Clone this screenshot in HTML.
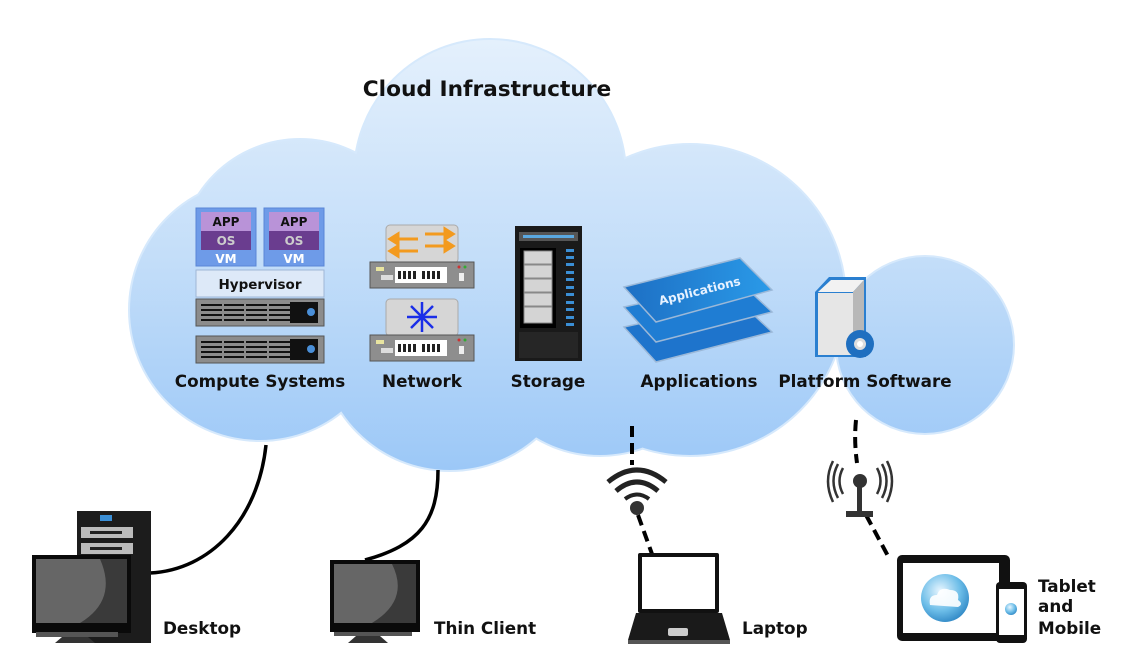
<!DOCTYPE html>
<html><head><meta charset="utf-8"><style>
html,body{margin:0;padding:0;background:#fff;}
svg{display:block;}
text{font-family:"DejaVu Sans","Liberation Sans",sans-serif;font-weight:bold;}
</style></head><body>
<svg width="1127" height="668" viewBox="0 0 1127 668" xmlns="http://www.w3.org/2000/svg">
<defs>
<linearGradient id="cg" x1="0" y1="40" x2="0" y2="470" gradientUnits="userSpaceOnUse">
<stop offset="0" stop-color="#e4f0fc"/><stop offset="0.5" stop-color="#c4def9"/><stop offset="1" stop-color="#9cc8f7"/>
</linearGradient>
<linearGradient id="ag" x1="0" y1="0" x2="1" y2="0"><stop offset="0" stop-color="#1d6fc4"/><stop offset="1" stop-color="#2a9ae8"/></linearGradient>
<radialGradient id="og" cx="0.4" cy="0.35" r="0.7"><stop offset="0" stop-color="#e8f6ff"/><stop offset="0.6" stop-color="#6cbde8"/><stop offset="1" stop-color="#2e86c4"/></radialGradient>
</defs>
<g fill="#cfe4fb" stroke="#d6e9fc" stroke-width="4">
<circle cx="490" cy="175" r="135"/><circle cx="260" cy="310" r="130"/><circle cx="300" cy="260" r="120"/>
<circle cx="450" cy="340" r="130"/><circle cx="690" cy="300" r="155"/><circle cx="600" cy="330" r="125"/><circle cx="925" cy="345" r="88"/>
</g>
<g fill="url(#cg)">
<circle cx="490" cy="175" r="135"/><circle cx="260" cy="310" r="130"/><circle cx="300" cy="260" r="120"/>
<circle cx="450" cy="340" r="130"/><circle cx="690" cy="300" r="155"/><circle cx="600" cy="330" r="125"/><circle cx="925" cy="345" r="88"/>
</g>
<text x="487" y="96" font-size="21.7" text-anchor="middle" fill="#111">Cloud Infrastructure</text>

<g>
<rect x="196" y="208" width="60" height="58" fill="#6e9be8" stroke="#5a86d6"/>
<rect x="201" y="212" width="50" height="19" fill="#b993d8"/><rect x="201" y="231" width="50" height="19" fill="#6a3d8f"/>
<text x="226" y="226" font-size="12" text-anchor="middle" fill="#111">APP</text>
<text x="226" y="245" font-size="12" text-anchor="middle" fill="#ccc">OS</text>
<text x="226" y="263" font-size="12" text-anchor="middle" fill="#fff">VM</text>
<rect x="264" y="208" width="60" height="58" fill="#6e9be8" stroke="#5a86d6"/>
<rect x="269" y="212" width="50" height="19" fill="#b993d8"/><rect x="269" y="231" width="50" height="19" fill="#6a3d8f"/>
<text x="294" y="226" font-size="12" text-anchor="middle" fill="#111">APP</text>
<text x="294" y="245" font-size="12" text-anchor="middle" fill="#ccc">OS</text>
<text x="294" y="263" font-size="12" text-anchor="middle" fill="#fff">VM</text>
<rect x="196" y="270" width="128" height="27" fill="#dde9f8" stroke="#9fb6d6"/>
<text x="260" y="289" font-size="13.5" text-anchor="middle" fill="#111">Hypervisor</text>
<g id="srv">
<rect x="196" y="299" width="128" height="27" fill="#8c8c8c" stroke="#555"/>
<g stroke="#111" stroke-width="2">
<line x1="201" y1="305" x2="292" y2="305"/><line x1="201" y1="310" x2="292" y2="310"/><line x1="201" y1="315" x2="292" y2="315"/><line x1="201" y1="320" x2="292" y2="320"/>
</g>
<g stroke="#8c8c8c" stroke-width="2"><line x1="223" y1="302" x2="223" y2="323"/><line x1="245" y1="302" x2="245" y2="323"/><line x1="268" y1="302" x2="268" y2="323"/></g>
<rect x="290" y="302" width="28" height="21" fill="#111"/><circle cx="311" cy="312" r="4" fill="#4a8fd8"/>
</g>
<use href="#srv" y="37"/>
</g>
<text x="260" y="387" font-size="16.8" text-anchor="middle" fill="#111">Compute Systems</text>

<g>
<rect x="386" y="225" width="72" height="38" rx="4" fill="#d6d6d6" stroke="#aaa"/>
<g stroke="#f39a1e" stroke-width="3" fill="#f39a1e">
<line x1="396" y1="239" x2="418" y2="239"/><polygon points="390,239 398,234 398,244"/>
<line x1="396" y1="251" x2="418" y2="251"/><polygon points="390,251 398,246 398,256"/>
<line x1="425" y1="234" x2="447" y2="234"/><polygon points="453,234 445,229 445,239"/>
<line x1="425" y1="246" x2="447" y2="246"/><polygon points="453,246 445,241 445,251"/>
</g>
<g id="sw">
<rect x="370" y="262" width="104" height="26" fill="#8e8e8e" stroke="#555"/>
<rect x="395" y="267" width="52" height="16" fill="#fff"/>
<g fill="#222"><rect x="398" y="271" width="3" height="8"/><rect x="403" y="271" width="3" height="8"/><rect x="408" y="271" width="3" height="8"/><rect x="413" y="271" width="3" height="8"/><rect x="422" y="271" width="3" height="8"/><rect x="427" y="271" width="3" height="8"/><rect x="432" y="271" width="3" height="8"/><rect x="437" y="271" width="3" height="8"/></g>
<rect x="376" y="267" width="8" height="4" fill="#e8e4a0"/><rect x="381" y="275" width="12" height="5" fill="#ddd"/>
<rect x="459" y="273" width="5" height="8" fill="#eee"/><circle cx="459" cy="267" r="1.5" fill="#c33"/><circle cx="465" cy="267" r="1.5" fill="#3a3"/>
</g>
<rect x="386" y="299" width="72" height="37" rx="4" fill="#d6d6d6" stroke="#aaa"/>
<g stroke="#1a2ee8" stroke-width="2.5">
<line x1="407" y1="317" x2="437" y2="317"/><line x1="422" y1="302" x2="422" y2="332"/>
<line x1="411" y1="306" x2="433" y2="328"/><line x1="433" y1="306" x2="411" y2="328"/>
</g>
<use href="#sw" y="73"/>
</g>
<text x="422" y="387" font-size="16.8" text-anchor="middle" fill="#111">Network</text>

<g>
<rect x="515" y="226" width="67" height="135" fill="#1a1a1a"/>
<rect x="519" y="232" width="59" height="9" fill="#555"/><rect x="523" y="235" width="51" height="3" fill="#5aa8e0"/>
<rect x="520" y="248" width="36" height="80" fill="#000"/>
<g fill="#d4d4d4" stroke="#888">
<rect x="524" y="251" width="28" height="13"/><rect x="524" y="265" width="28" height="13"/><rect x="524" y="279" width="28" height="13"/><rect x="524" y="293" width="28" height="13"/><rect x="524" y="307" width="28" height="16"/>
</g>
<g fill="#3b8fd6">
<rect x="566" y="249" width="8" height="3"/><rect x="566" y="256" width="8" height="3"/><rect x="566" y="263" width="8" height="3"/><rect x="566" y="271" width="8" height="3"/><rect x="566" y="278" width="8" height="3"/><rect x="566" y="286" width="8" height="3"/><rect x="566" y="293" width="8" height="3"/><rect x="566" y="301" width="8" height="3"/><rect x="566" y="308" width="8" height="3"/><rect x="566" y="316" width="8" height="3"/><rect x="566" y="323" width="8" height="3"/>
</g>
<rect x="519" y="332" width="59" height="26" fill="#262626"/>
</g>
<text x="548" y="387" font-size="16.8" text-anchor="middle" fill="#111">Storage</text>

<g stroke="#9bb8d8" stroke-width="1.5">
<polygon points="624,327 740,302 772,332 656,362" fill="#1e74cc"/>
<polygon points="624,307 740,282 772,312 656,342" fill="#1f7dd3"/>
<polygon points="624,287 740,258 772,290 656,322" fill="url(#ag)"/>
</g>
<text x="0" y="0" font-size="12" fill="#e8f2ff" transform="translate(660,305) rotate(-14)">Applications</text>
<text x="699" y="387" font-size="16.8" text-anchor="middle" fill="#111">Applications</text>

<g>
<polygon points="815,292 829,277 866,277 866,357 815,357" fill="#2a7fd0"/>
<rect x="818" y="293" width="35" height="62" fill="#e6e6e6"/>
<polygon points="818,292 831,280 864,280 853,292" fill="#f2f2f2"/>
<polygon points="853,292 864,280 864,350 853,355" fill="#b8b8b8"/>
<circle cx="860" cy="344" r="14" fill="#1f6fc0"/><circle cx="860" cy="344" r="6" fill="#ddd"/><circle cx="860" cy="344" r="3" fill="#fff"/>
</g>
<text x="865" y="387" font-size="16.8" text-anchor="middle" fill="#111">Platform Software</text>

<g fill="none" stroke="#000" stroke-width="3.5">
<path d="M266,445 C258,520 210,570 150,573"/>
<path d="M438,470 C438,520 420,545 365,560"/>
</g>
<g fill="none" stroke="#000" stroke-width="4" stroke-dasharray="11,6">
<path d="M632,426 L632,465"/>
<path d="M638,515 L652,554"/>
<path d="M856,420 C854,440 856,455 857,463"/>
<path d="M866,515 L888,556"/>
</g>
<g fill="none" stroke="#222">
<path d="M608,482 Q637,458 666,482" stroke-width="5"/>
<path d="M616,491 Q637,473 658,491" stroke-width="5"/>
<path d="M625,499 Q637,490 649,499" stroke-width="4"/>
</g>
<circle cx="637" cy="508" r="7" fill="#333"/>
<g fill="none" stroke="#333" stroke-width="2.5">
<path d="M843,468 Q836,481 843,494"/><path d="M838,464 Q829,481 838,498"/><path d="M833,461 Q823,481 833,502"/>
<path d="M877,468 Q884,481 877,494"/><path d="M882,464 Q891,481 882,498"/><path d="M887,461 Q897,481 887,502"/>
</g>
<circle cx="860" cy="481" r="7" fill="#333"/>
<rect x="857" y="484" width="5" height="28" fill="#333"/><rect x="846" y="511" width="27" height="6" fill="#333"/>

<g>
<rect x="77" y="511" width="74" height="132" fill="#1c1c1c"/>
<rect x="100" y="515" width="12" height="6" fill="#3b8fd6"/>
<rect x="81" y="527" width="52" height="11" fill="#bbb"/><rect x="90" y="531" width="32" height="3" fill="#222"/>
<rect x="81" y="543" width="52" height="11" fill="#bbb"/><rect x="90" y="547" width="32" height="3" fill="#222"/>
<rect x="32" y="555" width="99" height="78" fill="#0a0a0a"/>
<rect x="36" y="559" width="91" height="64" fill="#666"/>
<path d="M100,559 Q118,600 80,623 L127,623 L127,559Z" fill="#3a3a3a"/>
<rect x="36" y="632" width="82" height="5" fill="#555"/>
<polygon points="55,643 95,643 88,637 62,637" fill="#333"/>
</g>
<text x="163" y="634" font-size="16.8" fill="#111">Desktop</text>
<g>
<rect x="330" y="560" width="90" height="72" fill="#0a0a0a"/>
<rect x="334" y="564" width="82" height="59" fill="#666"/>
<path d="M392,564 Q410,600 372,623 L416,623 L416,564Z" fill="#3a3a3a"/>
<rect x="334" y="632" width="78" height="4" fill="#555"/>
<polygon points="348,643 388,643 380,636 356,636" fill="#333"/>
</g>
<text x="434" y="634" font-size="16.8" fill="#111">Thin Client</text>
<g>
<rect x="638" y="553" width="81" height="60" rx="2" fill="#111"/>
<rect x="642" y="557" width="73" height="52" fill="#fff"/>
<polygon points="636,613 722,613 730,640 628,640" fill="#1a1a1a"/>
<rect x="628" y="640" width="102" height="4" fill="#555"/>
<rect x="668" y="628" width="20" height="8" rx="2" fill="#ccc"/>
</g>
<text x="742" y="634" font-size="16.8" fill="#111">Laptop</text>
<g>
<rect x="897" y="555" width="113" height="86" rx="5" fill="#111"/>
<rect x="903" y="563" width="96" height="70" fill="#fff"/>
<circle cx="945" cy="598" r="24" fill="url(#og)"/>
<path d="M930,605 Q928,595 937,595 Q940,586 950,590 Q960,590 958,600 Q964,604 958,607 Z" fill="#fff" opacity="0.9"/>
<rect x="996" y="582" width="31" height="61" rx="4" fill="#111"/>
<rect x="999" y="589" width="25" height="46" fill="#fff"/>
<circle cx="1011" cy="609" r="6" fill="url(#og)"/>
</g>
<text x="1038" y="592" font-size="16.8" fill="#111">Tablet</text>
<text x="1038" y="612" font-size="16.8" fill="#111">and</text>
<text x="1038" y="634" font-size="16.8" fill="#111">Mobile</text>
</svg>
</body></html>
